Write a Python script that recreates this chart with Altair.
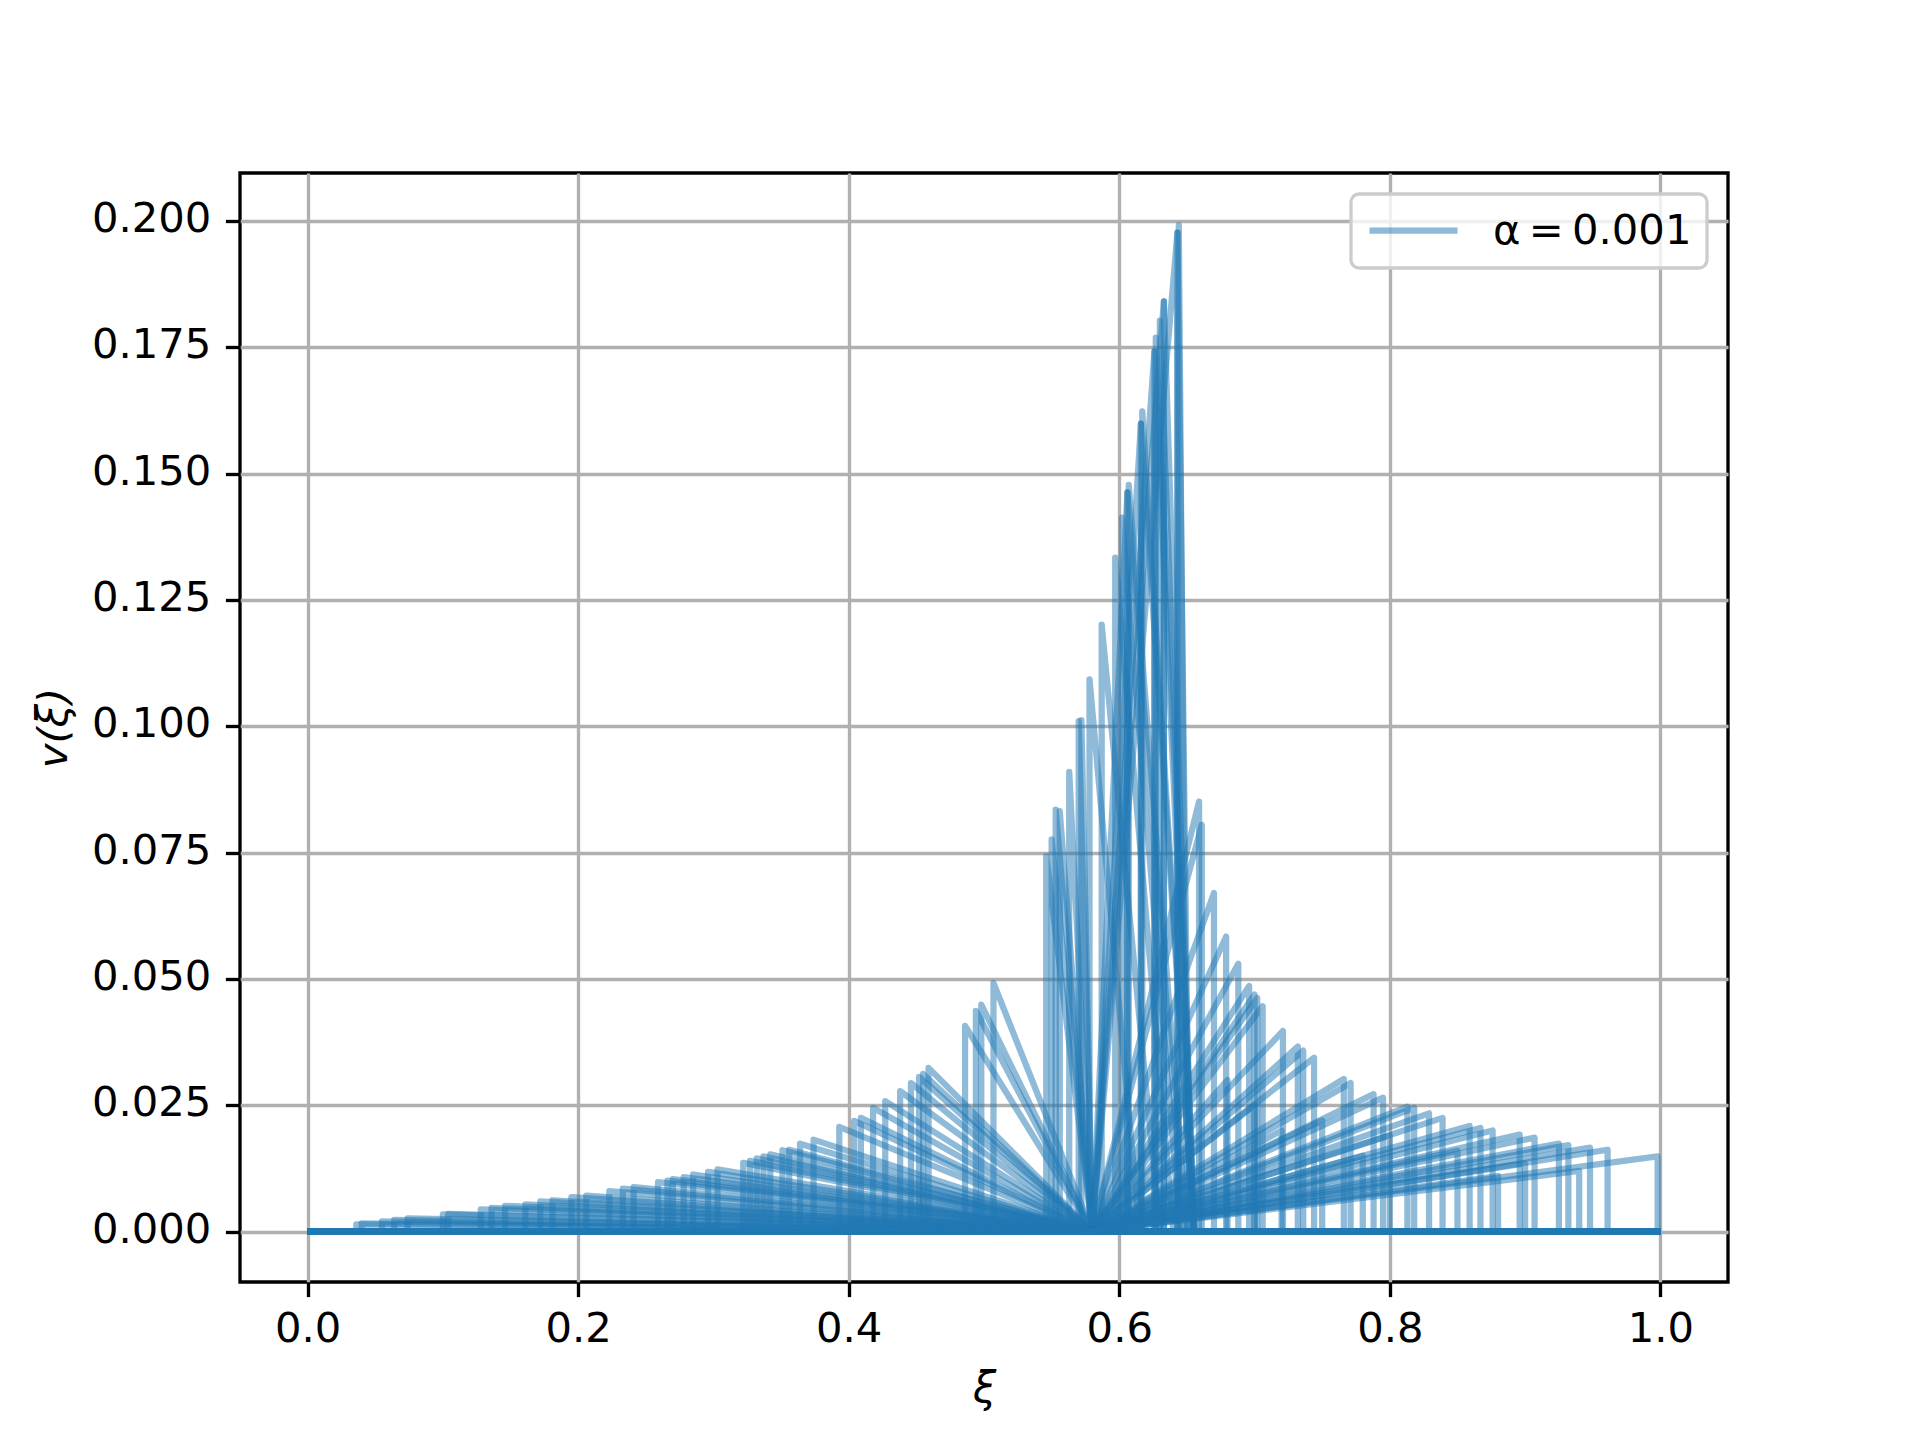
import altair as alt
import pandas as pd

# Sound-speed convergence point of the profiles
CS = 0.58

# Deflagration-like profiles: jump at xi_w up to v_peak, then fall to (CS, 0)
LEFT_XW = [0.036, 0.040, 0.055, 0.064, 0.074, 0.100, 0.104, 0.128, 0.136, 0.146,
           0.161, 0.172, 0.181, 0.195, 0.206, 0.223, 0.233, 0.241, 0.259, 0.266,
           0.270, 0.278, 0.285, 0.296, 0.303, 0.322, 0.327, 0.332, 0.337, 0.342,
           0.351, 0.356, 0.364, 0.374, 0.393, 0.404, 0.409, 0.418, 0.427, 0.438,
           0.446, 0.452, 0.455, 0.459, 0.486, 0.494, 0.498, 0.507, 0.546, 0.550,
           0.553, 0.556, 0.563, 0.570, 0.572]
LEFT_VP = [0.0014, 0.0016, 0.0020, 0.0023, 0.0026, 0.0034, 0.0035, 0.0044, 0.0047, 0.0051,
           0.0054, 0.0060, 0.0062, 0.0068, 0.0071, 0.0080, 0.0085, 0.0088, 0.0098, 0.0101,
           0.0104, 0.0108, 0.0113, 0.0118, 0.0123, 0.0136, 0.0140, 0.0145, 0.0149, 0.0153,
           0.0161, 0.0162, 0.0174, 0.0182, 0.0207, 0.0219, 0.0225, 0.0245, 0.0258, 0.0278,
           0.0294, 0.0306, 0.0312, 0.0324, 0.0407, 0.0437, 0.0449, 0.0492, 0.0743, 0.0776,
           0.0835, 0.0832, 0.0910, 0.1010, 0.1012]

# Tall spikes near the sound speed: jump at xi_w, steep fall to (xi_end, 0)
MID_XW = [0.578, 0.587, 0.597, 0.602, 0.606, 0.607, 0.616, 0.617, 0.626, 0.627,
          0.630, 0.633, 0.643, 0.644]
MID_VP = [0.1093, 0.1201, 0.1334, 0.1413, 0.1463, 0.1478, 0.1599, 0.1623, 0.1742, 0.1769,
          0.1803, 0.1841, 0.1977, 0.1992]
MID_XE = [0.615, 0.630, 0.640, 0.645, 0.648, 0.650, 0.655, 0.655, 0.655, 0.656,
          0.655, 0.655, 0.652, 0.650]

# Detonation-like profiles: rise from (CS, 0) to v_peak at xi_w, then drop to 0
RIGHT_XW = [0.606, 0.616, 0.626, 0.633, 0.643,
            0.659, 0.661, 0.670, 0.679, 0.688, 0.696, 0.700, 0.702, 0.706, 0.721,
            0.732, 0.736, 0.744, 0.766, 0.771, 0.788, 0.795, 0.813, 0.818, 0.829,
            0.839, 0.859, 0.867, 0.876, 0.896, 0.907, 0.925, 0.932, 0.948, 0.961,
            0.998,
            0.680, 0.700, 0.720, 0.750, 0.780, 0.800, 0.850, 0.880, 0.900, 0.940]
RIGHT_VP = [0.1463, 0.1599, 0.1742, 0.1841, 0.1977,
            0.0851, 0.0805, 0.0670, 0.0584, 0.0530, 0.0486, 0.0469, 0.0462, 0.0446, 0.0397,
            0.0366, 0.0358, 0.0344, 0.0302, 0.0294, 0.0272, 0.0265, 0.0247, 0.0245, 0.0234,
            0.0225, 0.0209, 0.0205, 0.0200, 0.0192, 0.0186, 0.0174, 0.0171, 0.0166, 0.0162,
            0.0149,
            0.0300, 0.0250, 0.0200, 0.0220, 0.0150, 0.0190, 0.0160, 0.0110, 0.0135, 0.0120]

X_TICKS = [0.0, 0.2, 0.4, 0.6, 0.8, 1.0]
Y_TICKS = [0.0, 0.025, 0.05, 0.075, 0.1, 0.125, 0.15, 0.175, 0.2]
LABEL = "α\u2009=\u20090.001"

rows = []
cid = 0


def add(points):
    global cid
    for i, (x, y) in enumerate(points):
        rows.append({"curve": cid, "i": i, "xi": x, "v": y, "series": LABEL})
    cid += 1


for xw, vp in zip(LEFT_XW, LEFT_VP):
    add([(0.0, 0.0), (xw, 0.0), (xw, vp), (CS, 0.0), (1.0, 0.0)])
for xw, vp, xe in zip(MID_XW, MID_VP, MID_XE):
    add([(0.0, 0.0), (xw, 0.0), (xw, vp), (xe, 0.0), (1.0, 0.0)])
for xw, vp in zip(RIGHT_XW, RIGHT_VP):
    add([(0.0, 0.0), (CS, 0.0), (xw, vp), (xw, 0.0), (1.0, 0.0)])

df = pd.DataFrame(rows)

FONT = "DejaVu Sans"
FS = 41.7

chart = alt.Chart(df).mark_line(
    opacity=0.5, strokeWidth=6.25, strokeJoin="round", strokeCap="butt"
).encode(
    x=alt.X("xi:Q",
            scale=alt.Scale(domain=[-0.05, 1.05], nice=False, zero=False),
            axis=alt.Axis(values=X_TICKS, format=".1f", title="ξ",
                          labelPadding=12,
                          titleFontStyle="italic", titleFontWeight="normal",
                          titleY=119, titleBaseline="alphabetic")),
    y=alt.Y("v:Q",
            scale=alt.Scale(domain=[-0.00998, 0.2095], nice=False, zero=False),
            axis=alt.Axis(values=Y_TICKS, format=".3f", title="v(ξ)",
                          labelOffset=-2.5,
                          titleFontStyle="italic", titleFontWeight="normal",
                          titleX=-174, titleBaseline="alphabetic", titleAngle=270)),
    detail="curve:N",
    order="i:Q",
    color=alt.Color("series:N", scale=alt.Scale(range=["#1f77b4"]),
                    legend=alt.Legend(title=None, orient="top-right", offset=21,
                                      symbolType="stroke", symbolStrokeWidth=6.25,
                                      symbolSize=7744, symbolOpacity=0.5,
                                      labelFont=FONT, labelFontSize=FS,
                                      labelColor="black", labelOffset=32,
                                      labelLimit=600, clipHeight=43,
                                      padding=15, cornerRadius=8,
                                      strokeColor="#cccccc", fillColor="rgba(255,255,255,0.8)")),
).properties(
    width=1488, height=1109,
    padding={"left": 232, "top": 165, "right": 184, "bottom": 150},
    autosize=alt.AutoSizeParams(type="none"),
).configure_view(
    stroke="black", strokeWidth=3.33
).configure_axis(
    domain=False,
    grid=True, gridColor="#b0b0b0", gridWidth=3.33,
    ticks=True, tickColor="black", tickWidth=3.33, tickSize=14.6,
    labelFont=FONT, labelFontSize=FS, labelColor="black", labelPadding=14.6,
    titleFont=FONT, titleFontSize=FS, titleColor="black",
).configure_legend(
    strokeWidth=3.3
)

chart.save("out.html", embed_options={"renderer": "svg", "actions": False})
